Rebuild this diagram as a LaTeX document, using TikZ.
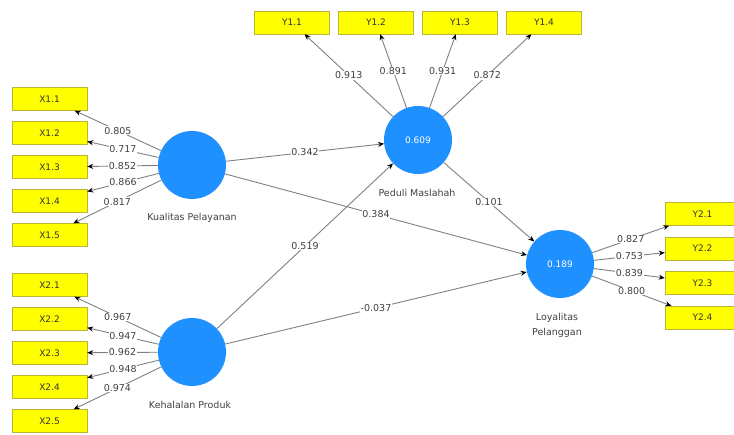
\documentclass[tikz,border=0pt]{standalone}
\usepackage{fontspec}
\setmainfont{DejaVu Sans}
\usepackage{tikz}
\usetikzlibrary{arrows.meta}
\definecolor{lvblue}{RGB}{30,144,255}
\definecolor{boxyellow}{RGB}{255,255,0}
\begin{document}
\begin{tikzpicture}[x=1pt,y=-1pt,>=Stealth,
ind/.style={draw=yellow!70!black,fill=boxyellow,minimum width=75pt,minimum height=23pt,inner sep=0pt,font=\fontsize{9}{10}\selectfont,text=black!80},
lv/.style={circle,fill=lvblue,minimum size=68pt,inner sep=0pt,text=white,font=\fontsize{9}{10}\selectfont},
lvname/.style={align=center,text=black!75,font=\fontsize{9.5}{15}\selectfont},
link/.style={-{Stealth[length=6pt,width=5pt,color=black]},draw=black!50,line width=0.9pt},
ld/.style={fill=white,inner sep=0.6pt,text=black!75,font=\fontsize{9.5}{10}\selectfont}]
\useasboundingbox (0,0) rectangle (734,435);
% indicators
\node[ind] (x11) at (49.5,99) {X1.1};
\node[ind] (x12) at (49.5,133) {X1.2};
\node[ind] (x13) at (49.5,167) {X1.3};
\node[ind] (x14) at (49.5,201) {X1.4};
\node[ind] (x15) at (49.5,235) {X1.5};
\node[ind] (x21) at (49.5,285) {X2.1};
\node[ind] (x22) at (49.5,319) {X2.2};
\node[ind] (x23) at (49.5,353) {X2.3};
\node[ind] (x24) at (49.5,387) {X2.4};
\node[ind] (x25) at (49.5,421) {X2.5};
\node[ind] (y11) at (292,22.5) {Y1.1};
\node[ind] (y12) at (376,22.5) {Y1.2};
\node[ind] (y13) at (460,22.5) {Y1.3};
\node[ind] (y14) at (544,22.5) {Y1.4};
\node[ind] (y21) at (702.5,214) {Y2.1};
\node[ind] (y22) at (702.5,248.5) {Y2.2};
\node[ind] (y23) at (702.5,283) {Y2.3};
\node[ind] (y24) at (702.5,317.5) {Y2.4};
% latent variables
\node[lv] (kp) at (192,165) {};
\node[lv] (kh) at (192,352) {};
\node[lv] (pm) at (418,140) {0.609};
\node[lv] (lp) at (560,264) {0.189};
\node[lvname] (kpname) at (192,218) {Kualitas Pelayanan};
\node[lvname] (khname) at (190,405) {Kehalalan Produk};
\node[lvname] (pmname) at (417,193) {Peduli Maslahah};
\node[lvname] (lpname) at (557,325.5) {Loyalitas\\Pelanggan};
% outer loadings
\draw[link] (kp) -- node[ld]{0.805} (x11);
\draw[link] (kp) -- node[ld]{0.717} (x12);
\draw[link] (kp) -- node[ld]{0.852} (x13);
\draw[link] (kp) -- node[ld]{0.866} (x14);
\draw[link] (kp) -- node[ld]{0.817} (x15);
\draw[link] (kh) -- node[ld]{0.967} (x21);
\draw[link] (kh) -- node[ld]{0.947} (x22);
\draw[link] (kh) -- node[ld]{0.962} (x23);
\draw[link] (kh) -- node[ld]{0.948} (x24);
\draw[link] (kh) -- node[ld]{0.974} (x25);
\draw[link] (pm) -- node[ld]{0.913} (y11);
\draw[link] (pm) -- node[ld]{0.891} (y12);
\draw[link] (pm) -- node[ld]{0.931} (y13);
\draw[link] (pm) -- node[ld]{0.872} (y14);
\draw[link] (lp) -- node[ld]{0.827} (y21);
\draw[link] (lp) -- node[ld]{0.753} (y22);
\draw[link] (lp) -- node[ld]{0.839} (y23);
\draw[link] (lp) -- node[ld]{0.800} (y24);
% path coefficients
\draw[link] (kp) -- node[ld]{0.342} (pm);
\draw[link] (kp) -- node[ld]{0.384} (lp);
\draw[link] (kh) -- node[ld]{0.519} (pm);
\draw[link] (kh) -- node[ld]{-0.037} (lp);
\draw[link] (pm) -- node[ld]{0.101} (lp);
\end{tikzpicture}
\end{document}
